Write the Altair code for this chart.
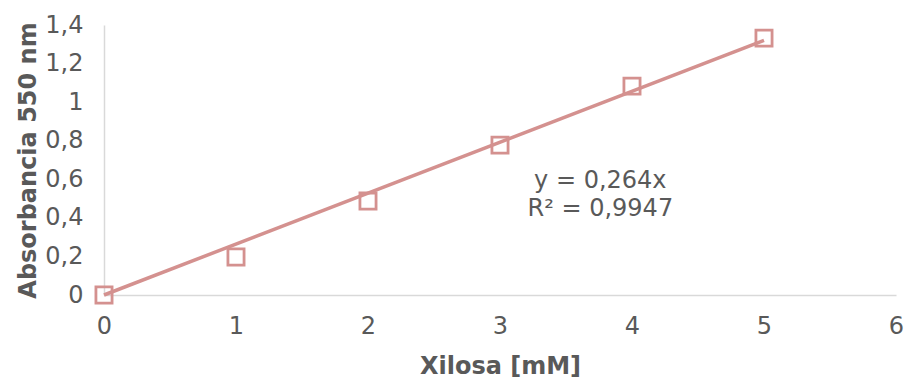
import altair as alt
import pandas as pd

xilosa = [0, 1, 2, 3, 4, 5]
absorbancia = [0.0, 0.197, 0.487, 0.777, 1.083, 1.332]
slope = 0.264
trend_x = [0, 5]
eq_lines = ["y = 0,264x", "R² = 0,9947"]
eq_x = [3.76, 3.76]
eq_y = [0.592, 0.447]

color = "#D4918F"
font = "DejaVu Sans"
gray = "#595959"
fs = 24

pts = pd.DataFrame({"x": xilosa, "y": absorbancia})
trend = pd.DataFrame({"x": trend_x, "y": [slope * v for v in trend_x]})
eq = pd.DataFrame({"x": eq_x, "y": eq_y, "t": eq_lines})

xs = alt.Scale(domain=[0, 6], nice=False, zero=True)
ys = alt.Scale(domain=[0, 1.4], nice=False)

xaxis = alt.Axis(values=[0, 1, 2, 3, 4, 5, 6], grid=False, ticks=False, domainColor="#d9d9d9",
                 domainWidth=1.5, format="d", labelFont=font, labelFontSize=fs, labelColor=gray,
                 labelPadding=19, labelOverlap=False, labelFlush=False,
                 title="Xilosa [mM]", titleFont=font, titleFontSize=fs,
                 titleFontWeight="bold", titleColor=gray, titlePadding=16)
yaxis = alt.Axis(values=[0, 0.2, 0.4, 0.6, 0.8, 1.0, 1.2, 1.4], grid=False, ticks=False,
                 domainColor="#d9d9d9", domainWidth=1.5,
                 labelExpr="replace(format(datum.value, ''), '.', ',')",
                 labelOverlap=False, labelFlush=False,
                 labelFont=font, labelFontSize=fs, labelColor=gray, labelPadding=21,
                 title="Absorbancia 550 nm", titleFont=font, titleFontSize=fs,
                 titleFontWeight="bold", titleColor=gray, titlePadding=4)

line = alt.Chart(trend).mark_line(color=color, strokeWidth=3.5).encode(
    x=alt.X("x:Q", scale=xs, axis=xaxis), y=alt.Y("y:Q", scale=ys, axis=yaxis))
points = alt.Chart(pts).mark_point(shape="square", filled=False, color=color, size=260,
                                   strokeWidth=2.8, opacity=1).encode(
    x=alt.X("x:Q", scale=xs, axis=xaxis), y=alt.Y("y:Q", scale=ys, axis=yaxis))
text = alt.Chart(eq).mark_text(font=font, fontSize=fs, color=gray, align="center",
                               baseline="middle").encode(
    x=alt.X("x:Q", scale=xs, axis=xaxis), y=alt.Y("y:Q", scale=ys, axis=yaxis), text="t:N")

chart = (line + points + text).properties(
    width=792, height=270,
    autosize=alt.AutoSizeParams(type="none"),
    padding={"left": 104, "top": 25, "right": 10, "bottom": 83},
    background="white",
).configure_view(stroke=None)

chart.save("out.html", embed_options={"renderer": "svg", "actions": False})
